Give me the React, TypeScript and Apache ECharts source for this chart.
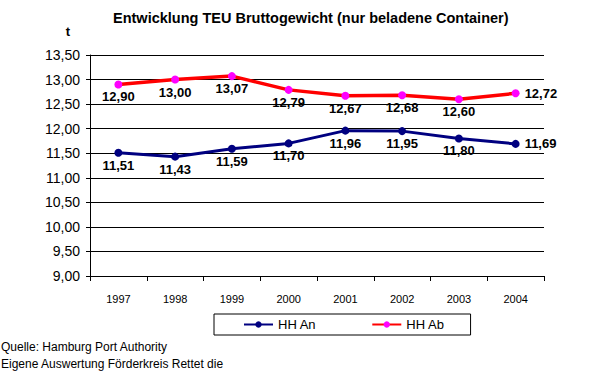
import React, { useEffect, useRef } from "react";
import * as echarts from "echarts";

const years = ["1997", "1998", "1999", "2000", "2001", "2002", "2003", "2004"];
const hhAn = [11.51, 11.43, 11.59, 11.7, 11.96, 11.95, 11.8, 11.69];
const hhAb = [12.9, 13.0, 13.07, 12.79, 12.67, 12.68, 12.6, 12.72];
const seriesNames = ["HH An", "HH Ab"];
const titleText = "Entwicklung TEU Bruttogewicht (nur beladene Container)";
const unitText = "t";
const sourceLines = ["Quelle: Hamburg Port Authority", "Eigene Auswertung Förderkreis Rettet die"];

const FONT = "'Liberation Sans', Arial, sans-serif";
const fmt = (v: number) => v.toFixed(2).replace(".", ",");

function buildData(values: number[]) {
  return values.map((v, i) =>
    i === values.length - 1
      ? { value: v, label: { position: "right", distance: 5 } }
      : { value: v }
  );
}

export default function App() {
  const ref = useRef<HTMLDivElement>(null);
  useEffect(() => {
    if (!ref.current) return;
    const chart = echarts.init(ref.current, undefined, { renderer: "svg" });
    const labelCfg = {
      show: true,
      position: "bottom",
      distance: 2,
      fontFamily: FONT,
      fontSize: 13,
      fontWeight: "bold",
      color: "#000",
      formatter: (p: any) => fmt(p.value),
    };
    chart.setOption({
      animation: false,
      backgroundColor: "#fff",
      title: {
        text: titleText,
        left: 113,
        top: 10,
        padding: 0,
        textStyle: { fontFamily: FONT, fontSize: 14.5, fontWeight: "bold", color: "#000" },
      },
      grid: { left: 90, right: 45, top: 55, bottom: 96 },
      xAxis: {
        type: "category",
        data: years,
        boundaryGap: true,
        axisLine: { show: true, lineStyle: { color: "#000", width: 1 } },
        axisTick: { show: true, length: 5, lineStyle: { color: "#000" } },
        axisLabel: { margin: 17, fontFamily: FONT, fontSize: 11, color: "#000" },
        splitLine: { show: false },
      },
      yAxis: {
        type: "value",
        min: 9,
        max: 13.5,
        interval: 0.5,
        axisLine: { show: true, lineStyle: { color: "#000", width: 1 } },
        axisTick: { show: true, length: 4, lineStyle: { color: "#000" } },
        axisLabel: {
          margin: 10,
          fontFamily: FONT,
          fontSize: 14,
          color: "#000",
          formatter: (v: number) => fmt(v),
        },
        splitLine: { show: true, lineStyle: { color: "#000", width: 1 } },
      },
      legend: {
        data: seriesNames,
        left: 214,
        top: 314,
        orient: "horizontal",
        padding: [4, 26, 4, 29],
        borderColor: "#000",
        borderWidth: 1,
        borderRadius: 0,
        itemWidth: 29,
        itemHeight: 8,
        itemGap: 55,
        textStyle: { fontFamily: FONT, fontSize: 13, color: "#000" },
      },
      graphic: [
        {
          type: "text",
          x: 68,
          y: 31,
          style: {
            text: unitText,
            fontFamily: FONT,
            fontSize: 13,
            fontWeight: "bold",
            fill: "#000",
            textAlign: "center",
            textVerticalAlign: "middle",
          },
        },
        ...sourceLines.map((t, i) => ({
          type: "text",
          x: 1,
          y: 347 + i * 16.5,
          style: {
            text: t,
            fontFamily: FONT,
            fontSize: 12,
            fill: "#000",
            textAlign: "left",
            textVerticalAlign: "middle",
          },
        })),
      ],
      series: [
        {
          name: seriesNames[0],
          type: "line",
          data: buildData(hhAn),
          symbol: "circle",
          symbolSize: 8,
          lineStyle: { color: "#000080", width: 3 },
          itemStyle: { color: "#000080" },
          label: labelCfg,
        },
        {
          name: seriesNames[1],
          type: "line",
          data: buildData(hhAb),
          symbol: "circle",
          symbolSize: 8,
          lineStyle: { color: "#FF0000", width: 3.5 },
          itemStyle: { color: "#FF00FF" },
          label: labelCfg,
        },
      ],
    });
    return () => chart.dispose();
  }, []);
  return (
    <div
      ref={ref}
      style={{ position: "absolute", left: 0, top: 0, width: 589, height: 372 }}
    />
  );
}
